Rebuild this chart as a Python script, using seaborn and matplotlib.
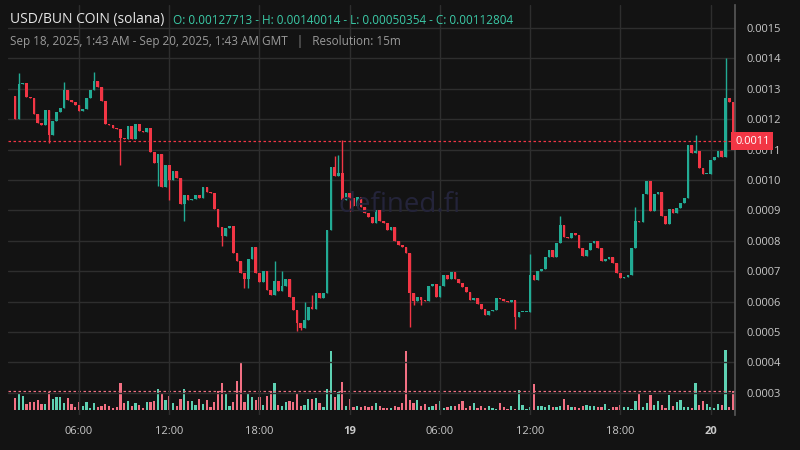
import numpy as np
import pandas as pd
import matplotlib
matplotlib.use("Agg")
import matplotlib.pyplot as plt
import seaborn as sns

# 15m candles, Sep 18 01:45 GMT onward
first_open = 0.00127713
closes = [
    0.001201, 0.001316, 0.001320, 0.001273, 0.001270, 0.001217, 0.001188, 0.001180, 0.001230, 0.001148,
    0.001194, 0.001224, 0.001237, 0.001296, 0.001263, 0.001257, 0.001247, 0.001227, 0.001234, 0.001270,
    0.001296, 0.001326, 0.001306, 0.001260, 0.001184, 0.001181, 0.001171, 0.001168, 0.001138, 0.001135,
    0.001178, 0.001135, 0.001184, 0.001161, 0.001158, 0.001171, 0.001092, 0.001056, 0.001086, 0.000977,
    0.001049, 0.000999, 0.001030, 0.001007, 0.000921, 0.000951, 0.000934, 0.000937, 0.000951, 0.000941,
    0.000977, 0.000961, 0.000958, 0.000905, 0.000845, 0.000816, 0.000842, 0.000849, 0.000760, 0.000734,
    0.000694, 0.000674, 0.000740, 0.000780, 0.000694, 0.000664, 0.000700, 0.000638, 0.000622, 0.000668,
    0.000635, 0.000651, 0.000674, 0.000615, 0.000572, 0.000530, 0.000513, 0.000539, 0.000582, 0.000576,
    0.000628, 0.000612, 0.000628, 0.000836, 0.001043, 0.001013, 0.001023, 0.000934, 0.000957, 0.000941,
    0.000914, 0.000944, 0.000911, 0.000891, 0.000878, 0.000859, 0.000901, 0.000865, 0.000859, 0.000836,
    0.000845, 0.000799, 0.000786, 0.000780, 0.000760, 0.000628, 0.000602, 0.000615, 0.000605, 0.000602,
    0.000651, 0.000658, 0.000615, 0.000651, 0.000688, 0.000674, 0.000697, 0.000674, 0.000661, 0.000648,
    0.000632, 0.000605, 0.000612, 0.000592, 0.000576, 0.000556, 0.000569, 0.000571, 0.000612, 0.000609,
    0.000602, 0.000599, 0.000605, 0.000549, 0.000566, 0.000566, 0.000567, 0.000688, 0.000671, 0.000700,
    0.000707, 0.000747, 0.000770, 0.000747, 0.000793, 0.000852, 0.000812, 0.000809, 0.000826, 0.000819,
    0.000776, 0.000750, 0.000770, 0.000793, 0.000799, 0.000776, 0.000734, 0.000740, 0.000747, 0.000727,
    0.000694, 0.000678, 0.000681, 0.000688, 0.000776, 0.000865, 0.000862, 0.000954, 0.000997, 0.000898,
    0.000954, 0.000961, 0.000882, 0.000855, 0.000905, 0.000891, 0.000908, 0.000924, 0.000941, 0.001115,
    0.001089, 0.001095, 0.001040, 0.001020, 0.001021, 0.001066, 0.001076, 0.001095, 0.001076, 0.001270,
    0.001257, 0.001128,
]
# notable wicks (candle index -> price)
highs = {1: 0.001352, 13: 0.001322, 21: 0.001355, 69: 0.000734, 71: 0.000700, 77: 0.000600,
         79: 0.000622, 85: 0.001079, 86: 0.001082, 87: 0.001132, 137: 0.000757, 145: 0.000882,
         165: 0.000910, 172: 0.000950, 181: 0.001148, 189: 0.00140014}
lows = {9: 0.001122, 28: 0.001049, 38: 0.000980, 41: 0.000934, 45: 0.000865, 55: 0.000783,
        61: 0.000645, 62: 0.000645, 75: 0.00050354, 76: 0.000505, 89: 0.000898, 105: 0.000516,
        106: 0.000590, 108: 0.000590, 133: 0.000510, 191: 0.001109}
# volume bar heights (relative units)
volumes = [
    36, 48, 42, 18, 24, 24, 30, 18, 18, 54, 33, 39, 39, 21, 36, 18, 9, 24, 12, 24,
    6, 21, 9, 12, 18, 12, 6, 9, 81, 21, 27, 12, 21, 15, 6, 24, 24, 27, 63, 48,
    30, 42, 21, 12, 33, 63, 27, 27, 15, 33, 18, 30, 9, 24, 57, 81, 48, 12, 24, 87,
    144, 24, 48, 39, 30, 39, 15, 42, 57, 81, 15, 12, 24, 27, 24, 48, 12, 15, 33, 33,
    36, 21, 9, 63, 177, 39, 54, 84, 12, 33, 9, 12, 9, 12, 9, 12, 21, 12, 6, 6,
    6, 12, 9, 21, 177, 30, 21, 30, 12, 18, 9, 12, 18, 27, 6, 9, 12, 12, 18, 27,
    6, 12, 21, 6, 12, 6, 12, 6, 3, 21, 9, 3, 12, 3, 60, 15, 3, 9, 78, 12,
    12, 9, 15, 9, 9, 12, 33, 15, 9, 9, 6, 12, 15, 12, 12, 9, 9, 18, 3, 9,
    9, 15, 9, 9, 3, 27, 51, 9, 21, 45, 15, 27, 15, 6, 45, 12, 24, 30, 9, 9,
    6, 81, 15, 27, 18, 9, 6, 18, 15, 180, 9, 57,
]
tick_labels = ["06:00", "12:00", "18:00", "19", "06:00", "12:00", "18:00", "20"]

BG = "#131313"
GRID = "#2e2e2e"
UP = "#22ab94"
DOWN = "#f23645"
UP_VOL = "#5ed1b3"
DOWN_VOL = "#f27083"

sns.set_theme(style="dark", rc={"axes.facecolor": BG, "figure.facecolor": BG,
                                "font.family": "Open Sans"})

n = len(closes)
times = pd.date_range("2025-09-18 01:45", periods=n, freq="15min")
df = pd.DataFrame({"close": closes, "vol": volumes[:n]})
df["open"] = [first_open] + closes[:-1]
df["high"] = [max(highs.get(i, 0), o, c) for i, (o, c) in enumerate(zip(df.open, df.close))]
df["low"] = [min(lows.get(i, 1), o, c) for i, (o, c) in enumerate(zip(df.open, df.close))]
df["up"] = df.close >= df.open
idx = np.arange(n)

fig = plt.figure(figsize=(8, 4.5), dpi=100)
ax = fig.add_axes([8 / 800, 35 / 450, 727 / 800, 410 / 450])
ax.set_facecolor(BG)

# volume on its own scale in the lower part
axv = ax.twinx()
axv.set_ylim(-15, 1215)
axv.bar(idx, df.vol, width=0.6, color=np.where(df.up, UP_VOL, DOWN_VOL), linewidth=0, zorder=2)
axv.axhline(df.vol.iloc[-1], color=DOWN_VOL, ls=(0, (2, 2)), lw=0.9)
axv.set_yticks([])
axv.grid(False)
for s in axv.spines.values():
    s.set_visible(False)

ax.set_zorder(axv.get_zorder() + 1)
ax.patch.set_visible(False)
fig.patch.set_facecolor(BG)

colors = np.where(df.up, UP, DOWN)
ax.vlines(idx, df.low, df.high, colors=colors, lw=1, zorder=3)
body_bottom = np.minimum(df.open, df.close)
body_h = np.maximum(np.abs(df.close - df.open), 0.000003)
ax.bar(idx, body_h, bottom=body_bottom, width=0.72, color=colors, zorder=4, linewidth=0)

ax.set_xlim(-1.9, n - 0.5)
ax.set_ylim(0.000227, 0.0015757)
ticks = [i for i, t in enumerate(times) if t.minute == 0 and t.hour % 6 == 0]
ax.set_xticks(ticks)
ax.set_xticklabels(tick_labels)
for lab in ax.get_xticklabels():
    if lab.get_text() in ("19", "20"):
        lab.set_fontweight("bold")
ax.yaxis.tick_right()
ax.set_yticks(np.arange(0.0003, 0.00151, 0.0001))
ax.set_yticklabels([f"{v:.4f}" for v in np.arange(0.0003, 0.00151, 0.0001)])
ax.tick_params(colors="#c8c8c8", labelsize=8, length=0, pad=8)
ax.grid(True, color=GRID, lw=1)
for s in ["top", "left", "bottom"]:
    ax.spines[s].set_visible(False)
ax.spines["right"].set_color("#555555")

last = closes[-1]
ax.axhline(last, color=DOWN, ls=(0, (2, 2)), lw=0.9, zorder=5)
ax.text(1.0, last, f"{last:.4f}", transform=ax.get_yaxis_transform(), ha="left", va="center",
        fontsize=8, color="white", zorder=6,
        bbox=dict(boxstyle="square,pad=0.35", fc=DOWN, ec="none"))

fig.text(0.5, 0.545, "defined.fi", ha="center", va="center", fontsize=20, color="#24243a")
fig.text(10 / 800, 1 - 20 / 450, "USD/BUN COIN (solana)", color="#e6e6e6", fontsize=10, va="center")
fig.text(173 / 800, 1 - 20 / 450, "O: 0.00127713 - H: 0.00140014 - L: 0.00050354 - C: 0.00112804",
         color="#3bc9a6", fontsize=8.5, va="center")
fig.text(10 / 800, 1 - 41 / 450,
         "Sep 18, 2025, 1:43 AM - Sep 20, 2025, 1:43 AM GMT   |   Resolution: 15m",
         color="#9a9a9a", fontsize=8.5, va="center")

fig.savefig("out.png", dpi=100, facecolor=BG)
